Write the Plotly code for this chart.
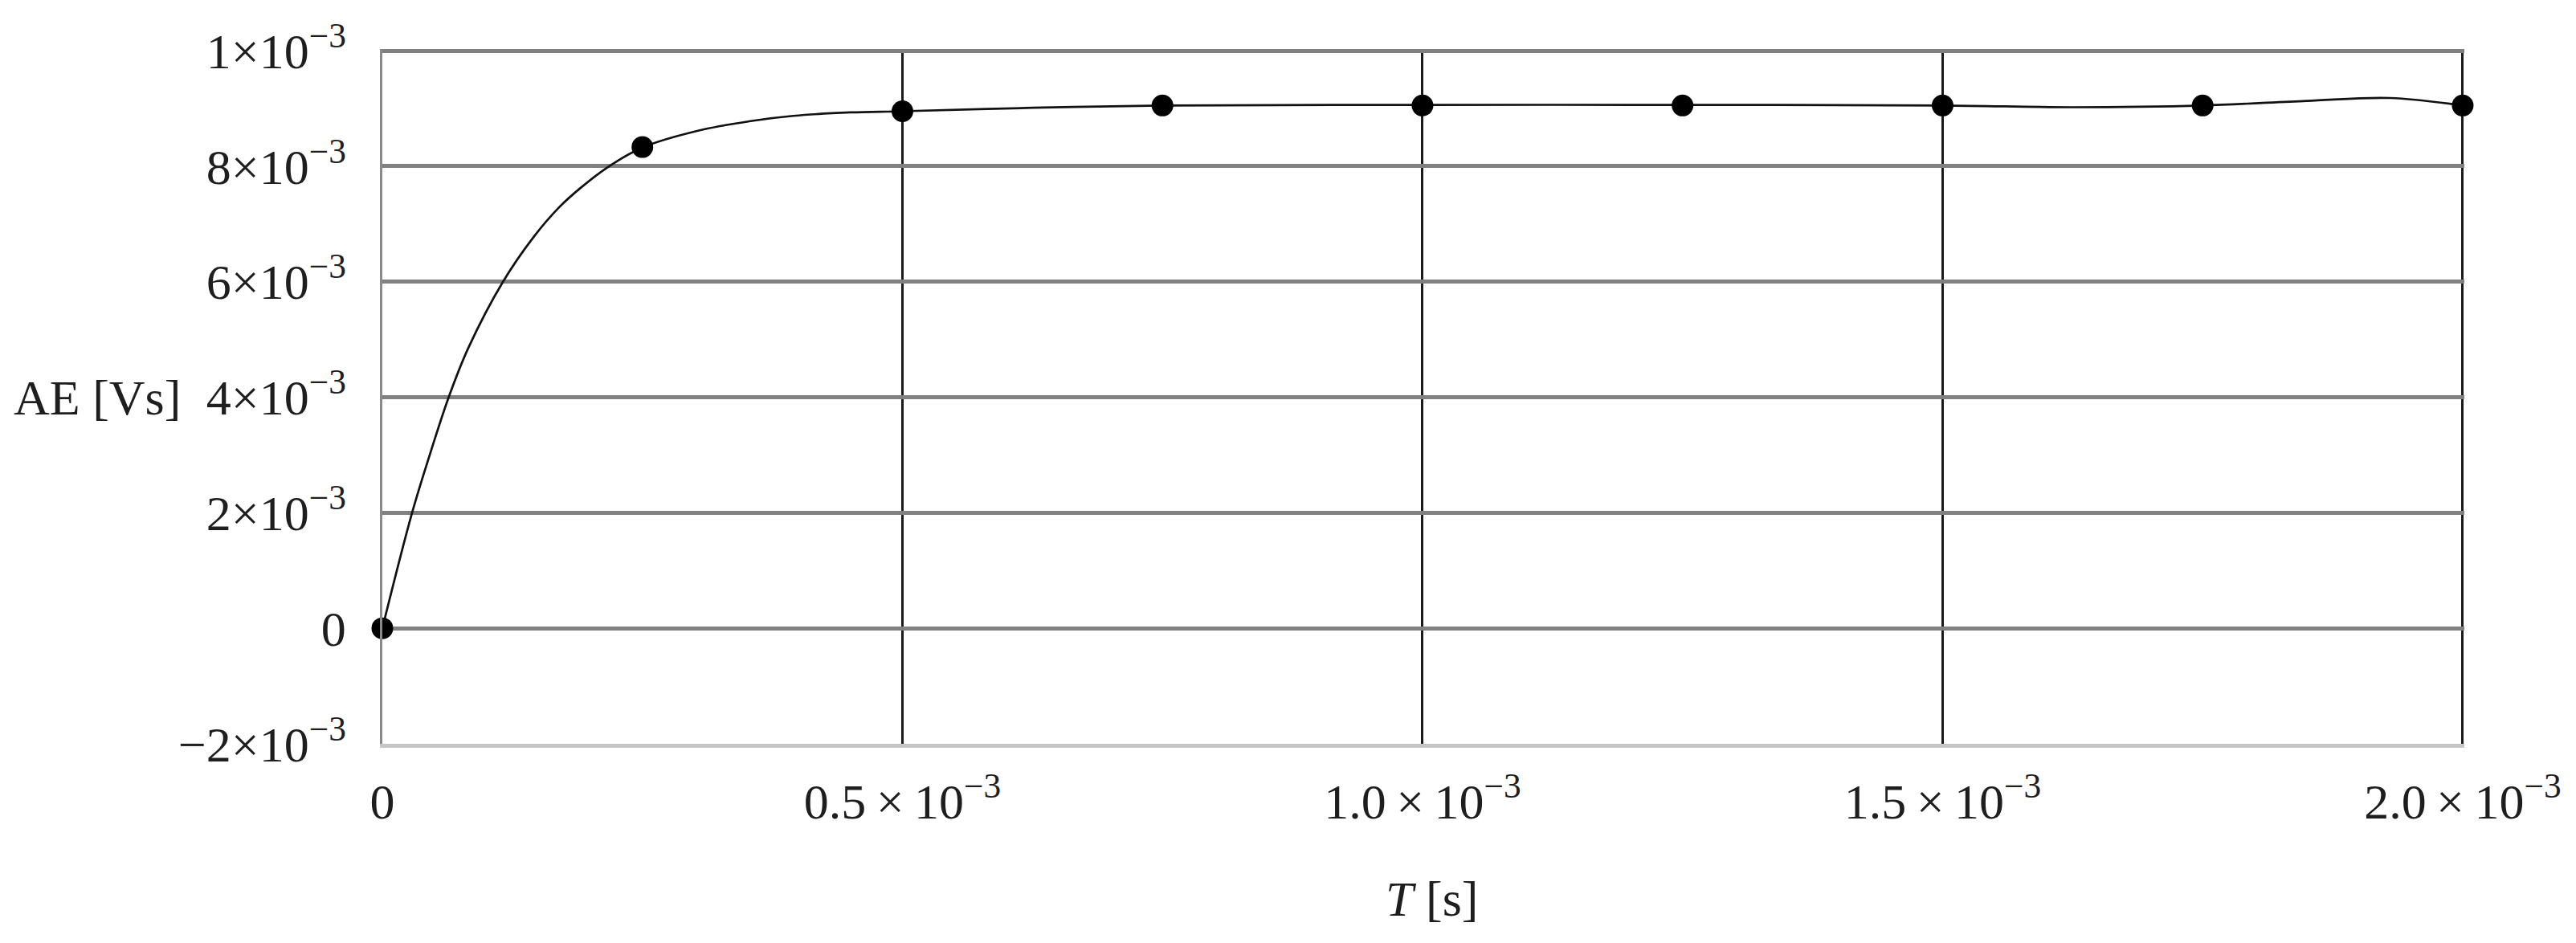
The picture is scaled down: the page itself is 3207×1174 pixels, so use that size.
import plotly.graph_objects as go

# sampled points (dots)
t_points = [0.0, 0.25e-3, 0.5e-3, 0.75e-3, 1.0e-3, 1.25e-3, 1.5e-3, 1.75e-3, 2.0e-3]
ae_points = [0.0, 8.33e-3, 8.95e-3, 9.05e-3, 9.05e-3, 9.05e-3, 9.05e-3, 9.05e-3, 9.05e-3]

# smooth curve
t_curve = [0.0, 0.0286e-3, 0.0466e-3, 0.0638e-3, 0.0826e-3, 0.116e-3, 0.1457e-3,
           0.169e-3, 0.189e-3, 0.2165e-3, 0.2512e-3, 0.3027e-3, 0.354e-3, 0.395e-3,
           0.45e-3, 0.5e-3, 0.625e-3, 0.75e-3, 1.0e-3, 1.25e-3, 1.5e-3, 1.625e-3,
           1.75e-3, 1.85e-3, 1.93e-3, 2.0e-3]
ae_curve = [0.0, 2.0e-3, 3.06e-3, 4.0e-3, 4.85e-3, 6.0e-3, 6.78e-3,
            7.27e-3, 7.6e-3, 7.98e-3, 8.33e-3, 8.61e-3, 8.78e-3, 8.87e-3,
            8.93e-3, 8.95e-3, 9.01e-3, 9.05e-3, 9.06e-3, 9.06e-3, 9.05e-3, 9.02e-3,
            9.05e-3, 9.13e-3, 9.18e-3, 9.05e-3]

sup = "<sup>\u22123</sup>"
x_tickvals = [0.0, 0.5e-3, 1.0e-3, 1.5e-3, 2.0e-3]
x_ticktext = ["0", "0.5\u2009\u00d7\u200910" + sup, "1.0\u2009\u00d7\u200910" + sup,
              "1.5\u2009\u00d7\u200910" + sup, "2.0\u2009\u00d7\u200910" + sup]
y_tickvals = [-2e-3, 0.0, 2e-3, 4e-3, 6e-3, 8e-3, 10e-3]
y_ticktext = ["\u22122\u00d710" + sup, "0", "2\u00d710" + sup, "4\u00d710" + sup,
              "6\u00d710" + sup, "8\u00d710" + sup, "1\u00d710" + sup]

FONT = "Liberation Serif"
TXT = "#1e1e1e"

fig = go.Figure()
fig.add_trace(go.Scatter(
    x=t_curve, y=ae_curve, mode="lines",
    line=dict(color="#111111", width=2.7, shape="spline", smoothing=1.0),
    hoverinfo="skip",
))
fig.add_trace(go.Scatter(
    x=t_points, y=ae_points, mode="markers",
    marker=dict(color="#000000", size=27),
    cliponaxis=False,
))

fig.update_layout(
    width=3207, height=1174,
    margin=dict(l=468, r=147, t=51, b=256),
    paper_bgcolor="white", plot_bgcolor="white",
    showlegend=False,
    font=dict(family=FONT, size=62, color=TXT),
    xaxis=dict(
        range=[0, 2.0016e-3], tickvals=x_tickvals, ticktext=x_ticktext,
        showgrid=True, gridcolor="#1a1a1a", gridwidth=2.5,
        zeroline=False, showline=True, linecolor="#c6c6c6", linewidth=5,
        ticks="", ticklabelstandoff=14,
    ),
    yaxis=dict(
        range=[-2e-3, 10.028e-3], tickvals=y_tickvals, ticktext=y_ticktext,
        showgrid=True, gridcolor="#808080", gridwidth=4.5,
        zeroline=False, showline=True, linecolor="#8a8a8a", linewidth=2.5,
        ticks="", ticklabelstandoff=30,
    ),
    annotations=[
        dict(text="AE [Vs]", xref="paper", yref="y", x=0, y=4e-3,
             xanchor="right", yanchor="middle", xshift=-249, showarrow=False,
             font=dict(family=FONT, size=62, color=TXT)),
        dict(text="<i>T</i> [s]", xref="paper", yref="paper", x=0.504, y=-0.2235,
             xanchor="center", yanchor="middle", showarrow=False,
             font=dict(family=FONT, size=62, color=TXT)),
    ],
)

fig.write_html("out.html")
